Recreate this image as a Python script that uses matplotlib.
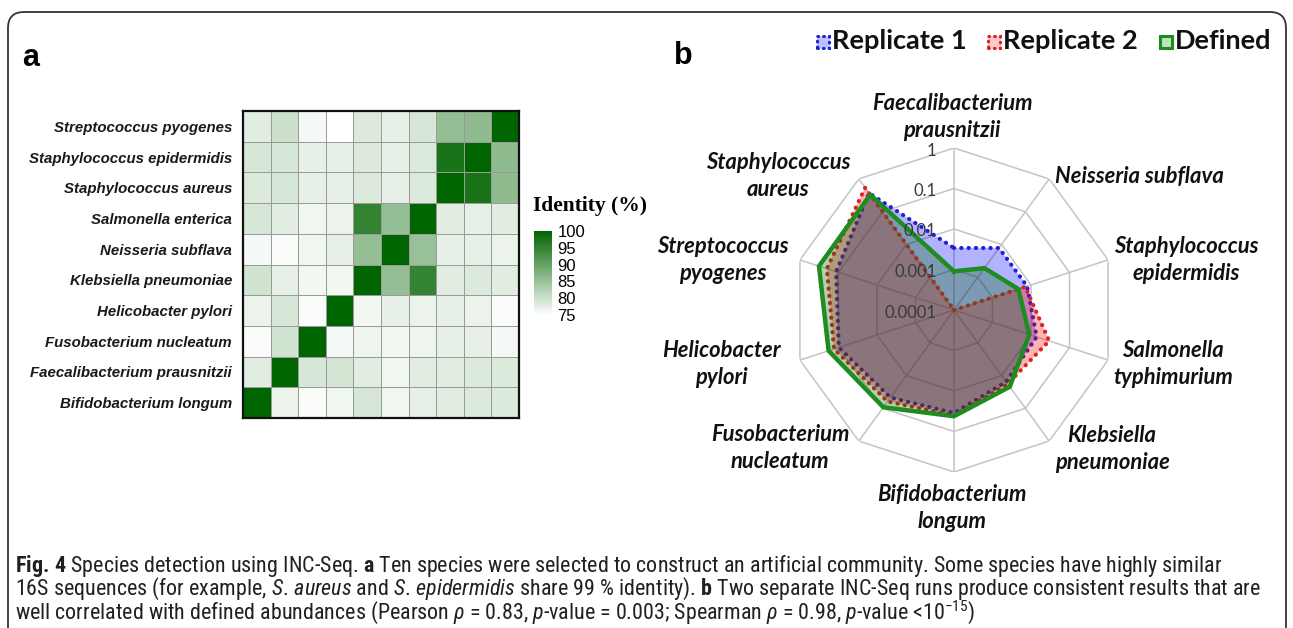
import numpy as np
import matplotlib
matplotlib.use('Agg')
import matplotlib.pyplot as plt
from matplotlib import font_manager as fm
from matplotlib.colors import LinearSegmentedColormap
from matplotlib.patches import FancyBboxPatch, Rectangle
from matplotlib.transforms import IdentityTransform

W, H = 1293, 628

# ---------------- data: panel a (16S identity, %) ----------------
species = ['Streptococcus pyogenes', 'Staphylococcus epidermidis', 'Staphylococcus aureus',
           'Salmonella enterica', 'Neisseria subflava', 'Klebsiella pneumoniae',
           'Helicobacter pylori', 'Fusobacterium nucleatum', 'Faecalibacterium prausnitzii',
           'Bifidobacterium longum']
# rows top->bottom as in species, columns left->right = species reversed
identity = [
    [78.0, 80.0, 76.0, 75.0, 78.5, 77.5, 79.0, 85.5, 86.0, 100],
    [79.0, 79.0, 77.5, 77.5, 78.5, 77.5, 78.5, 97.5, 100, 86.0],
    [78.5, 79.0, 77.5, 77.5, 78.5, 77.5, 78.5, 100, 97.5, 86.0],
    [79.0, 78.0, 76.5, 77.0, 95.0, 85.5, 100, 78.0, 77.5, 78.0],
    [76.0, 75.5, 76.5, 77.5, 85.5, 100, 85.0, 77.5, 77.5, 77.0],
    [79.5, 77.5, 76.3, 76.3, 100, 85.5, 95.0, 78.0, 78.5, 78.0],
    [77.0, 79.0, 75.5, 100, 76.3, 77.3, 77.0, 77.5, 77.0, 75.5],
    [75.5, 79.5, 100, 76.0, 76.7, 76.3, 76.7, 77.5, 77.5, 76.0],
    [78.0, 100, 79.0, 79.3, 78.0, 76.5, 78.0, 78.0, 78.5, 78.5],
    [100, 77.0, 75.5, 76.5, 79.0, 76.5, 77.5, 78.0, 78.5, 78.5],
]
identity_ticks = [100, 95, 90, 85, 80, 75]

# ---------------- data: panel b (relative abundance) ----------------
radar_labels = ['Faecalibacterium\nprausnitzii', 'Neisseria subflava', 'Staphylococcus\nepidermidis',
                'Salmonella\ntyphimurium', 'Klebsiella\npneumoniae', 'Bifidobacterium\nlongum',
                'Fusobacterium\nnucleatum', 'Helicobacter\npylori', 'Streptococcus\npyogenes',
                'Staphylococcus\naureus']
replicate1 = [0.0034, 0.0078, 0.0079, 0.014, 0.0155, 0.035, 0.047, 0.098, 0.115, 0.37]
replicate2 = [0.0001, 0.0001, 0.0071, 0.0295, 0.018, 0.040, 0.062, 0.13, 0.20, 0.54]
defined = [0.0009, 0.0019, 0.0047, 0.009, 0.022, 0.042, 0.093, 0.18, 0.32, 0.33]
ring_values = [1, 0.1, 0.01, 0.001, 0.0001]
ring_labels = ['1', '0.1', '0.01', '0.001', '0.0001']
legend_names = ['Replicate 1', 'Replicate 2', 'Defined']

# layout: label anchor points (pixels) around the radar, legend icon x positions
label_pos = [(952, 117), (1055, 177), (1186, 260), (1173, 364), (1112, 449),
             (952, 508), (780, 448), (721, 364), (723, 260), (778, 176)]
legend_x = [817, 988, 1160]


def pick(cands):
    for c in cands:
        try:
            fm.findfont(fm.FontProperties(family=c), fallback_to_default=False)
            return c
        except ValueError:
            pass
    return 'DejaVu Sans'


arial = pick(['Liberation Sans', 'DejaVu Sans'])
times = pick(['Liberation Serif', 'DejaVu Serif'])
calibri = pick(['Lato', 'Open Sans', 'Noto Sans'])
narrow = pick(['Liberation Sans Narrow', 'Roboto Condensed', 'DejaVu Sans Condensed', 'Roboto'])


def px(x, y):
    return x / W, 1 - y / H


fig = plt.figure(figsize=(W / 100, H / 100), dpi=100)
fig.patch.set_facecolor('white')
renderer = fig.canvas.get_renderer()

# outer rounded frame
fig.add_artist(FancyBboxPatch((8, -40), 1278, H - 12 + 40, boxstyle='round,pad=0,rounding_size=16',
                              transform=IdentityTransform(), fill=False, ec='#333333', lw=1.3))

fig.text(*px(22, 58), 'a', fontsize=22, fontweight='bold', family=arial, va='center')
fig.text(*px(674, 56), 'b', fontsize=22, fontweight='bold', family=arial, va='center')

# ---------------- panel a: heatmap ----------------
cmap = LinearSegmentedColormap.from_list('idgreen', ['#ffffff', '#006400'])
ax = fig.add_axes([243 / W, (H - 418) / H, 276 / W, 307 / H])
mesh = ax.pcolormesh(np.array(identity), cmap=cmap, vmin=75, vmax=100,
                     edgecolors='#9a9a9a', linewidth=0.6)
ax.set_xlim(0, 10)
ax.set_ylim(10, 0)
ax.set_xticks([])
ax.set_yticks(np.arange(10) + 0.5)
ax.set_yticklabels(species, fontsize=10.8, fontweight='bold', fontstyle='italic', family=arial,
                   color='#1a1a1a')
ax.tick_params(axis='y', length=0, pad=8)
for s in ax.spines.values():
    s.set_linewidth(1.6)
    s.set_color('#111111')

cax = fig.add_axes([534 / W, (H - 315) / H, 18 / W, 84 / H])
cb = fig.colorbar(mesh, cax=cax, ticks=identity_ticks)
cb.outline.set_visible(False)
cax.tick_params(length=0, pad=4)
for t in cax.get_yticklabels():
    t.set_fontsize(12)
    t.set_family(arial)
fig.text(*px(533, 206), 'Identity (%)', fontsize=15.5, fontweight='bold', family=times, va='center')

# ---------------- panel b: radar ----------------
axr = fig.add_axes([792 / W, (H - 472) / H, 324 / W, 324 / H], projection='polar')
axr.set_theta_zero_location('N')
axr.set_theta_direction(-1)
axr.set_rscale('log')
axr.set_rlim(1e-4, 1)
axr.grid(False)
axr.set_xticks([])
axr.set_yticks([])
axr.spines['polar'].set_visible(False)
axr.patch.set_visible(False)

theta = np.linspace(0, 2 * np.pi, 10, endpoint=False)
tc = np.append(theta, theta[0])

for v in ring_values[:-1]:
    axr.plot(tc, [v] * 11, color='#c4c4c4', lw=1.1, zorder=1)
for t in theta:
    axr.plot([t, t], [1e-4, 1], color='#c4c4c4', lw=1.1, zorder=1)


def closed(vals):
    return np.append(vals, vals[0])


dots = (0, (0.05, 1.7))
axr.fill(tc, closed(replicate1), color=(0, 0, 1), alpha=0.3, lw=0, zorder=2)
axr.plot(tc, closed(replicate1), color='#2020d8', lw=3.0, ls=dots, dash_capstyle='round', zorder=3)
axr.fill(tc, closed(replicate2), color=(1, 0, 0), alpha=0.3, lw=0, zorder=4)
axr.plot(tc, closed(replicate2), color='#e02020', lw=3.0, ls=dots, dash_capstyle='round', zorder=5)
axr.fill(tc, closed(defined), color=(0, 0.39, 0), alpha=0.3, lw=0, zorder=6)
axr.plot(tc, closed(defined), color='#1e8c1e', lw=3.2, zorder=7)

for v, lab in zip(ring_values, ring_labels):
    axr.annotate(lab, xy=(0, v), xytext=(-12.5, -1.8), textcoords='offset points',
                 ha='right', va='center', fontsize=12, family=calibri, color='#3a3a3a', zorder=8)

for lab, (x, y) in zip(radar_labels, label_pos):
    ha = 'left' if '\n' not in lab else 'center'
    fig.text(*px(x, y), lab, ha=ha, va='center', ma='center', fontsize=15.8,
             fontweight='bold', fontstyle='italic', family=calibri, linespacing=1.3,
             color='#111111')

# legend
styles = [((0.75, 0.75, 1.0), '#2020d8', (0, (0.3, 1.6))),
          ((1.0, 0.78, 0.78), '#e02020', (0, (0.3, 1.6))),
          ((0.72, 0.9, 0.72), '#1e8c1e', '-')]
for name, (fc, ec, ls), x in zip(legend_names, styles, legend_x):
    fig.add_artist(Rectangle((x, H - 41 - 6.5), 12, 12, transform=IdentityTransform(),
                             fc=fc, ec=ec, lw=2.2, ls=ls, capstyle='round'))
    fig.text(*px(x + 15, 41), name, fontsize=19.5, fontweight='bold', family=calibri,
             va='center', color='#111111')

# ---------------- caption ----------------
plt.rcParams['mathtext.fontset'] = 'custom'
plt.rcParams['mathtext.rm'] = narrow
plt.rcParams['mathtext.it'] = narrow + ':italic'
plt.rcParams['mathtext.bf'] = narrow + ':bold'
cap_lines = [
    r'$\mathbf{Fig.\,4}$ Species detection using INC-Seq. $\mathbf{a}$ Ten species were selected to '
    r'construct an artificial community. Some species have highly similar',
    r'16S sequences (for example, $\mathit{S.\,aureus}$ and $\mathit{S.\,epidermidis}$ '
    r'share 99 % identity). $\mathbf{b}$ Two separate INC-Seq runs produce consistent results that are',
    r'well correlated with defined abundances (Pearson $\mathit{\rho}$ = 0.83, $\mathit{p}$-value = 0.003; '
    r'Spearman $\mathit{\rho}$ = 0.98, $\mathit{p}$-value <10$^{-15}$)',
]
cap_y = [566, 589, 612]
caps = [fig.text(*px(15, y), s, fontsize=14, family=narrow, va='center', color='#231f20')
        for s, y in zip(cap_lines, cap_y)]
wmax = max(c.get_window_extent(renderer).width for c in caps)
for c in caps:
    c.set_fontsize(14 * 1250 / wmax)

fig.savefig('out.png', dpi=100)
